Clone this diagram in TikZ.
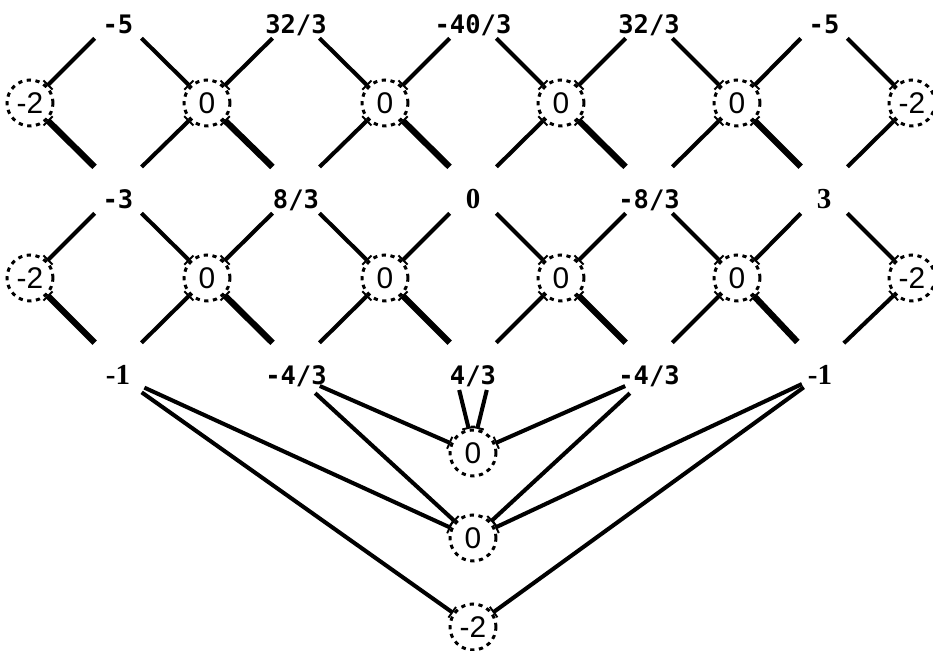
\documentclass[tikz,border=0pt]{standalone}
\usepackage{fontspec}
\usepackage{tikz}
\usetikzlibrary{arrows.meta}
\newfontfamily\latmono{DejaVu Sans Mono}
\newfontfamily\latserif{Liberation Serif}
\newfontfamily\latsans{Liberation Sans}
\tikzset{
  latcirc/.style={circle, draw=black, dash pattern=on 2.4pt off 2.6pt,
    line width=1.7pt, minimum size=9.2mm, inner sep=0pt,
    font=\latsans\fontsize{17}{17}\selectfont},
  latfrac/.style={anchor=north, inner sep=0pt, text height=10.5pt,
    text depth=0pt, font=\latmono\bfseries\fontsize{14.5}{14.5}\selectfont},
  latint/.style={latfrac, font=\latserif\bfseries\fontsize{16.5}{16.5}\selectfont},
  latedge/.style={line width=2.3pt,
    arrows={Bar[width=2.6mm, line width=1.1pt]-}, shorten >=6.6mm},
  latheavy/.style={latedge, line width=3.6pt},
  latfan/.style={line width=2.3pt,
    arrows={-Bar[width=2.6mm, line width=1.1pt]}, shorten <=5.2mm}
}
\begin{document}
\begin{tikzpicture}[x=0.2mm, y=-0.2mm]
  \useasboundingbox (0,0) rectangle (933,651);

  % top row of values
  \node[latfrac] (l11) at (118,15) {-5};
  \node[latfrac] (l12) at (296,15) {32/3};
  \node[latfrac] (l13) at (473,15) {-40/3};
  \node[latfrac] (l14) at (649,15) {32/3};
  \node[latfrac] (l15) at (824,15) {-5};

  \node[latcirc] (c11) at (30,103) {-2};
  \node[latcirc] (c12) at (207,103) {0};
  \node[latcirc] (c13) at (385,103) {0};
  \node[latcirc] (c14) at (561,103) {0};
  \node[latcirc] (c15) at (737,103) {0};
  \node[latcirc] (c16) at (912,103) {-2};

  % middle row of values
  \node[latfrac] (l21) at (118,190) {-3};
  \node[latfrac] (l22) at (296,190) {8/3};
  \node[latint] (l23) at (473,190) {0};
  \node[latfrac] (l24) at (649,190) {-8/3};
  \node[latint] (l25) at (824,190) {3};

  \node[latcirc] (c21) at (30,278) {-2};
  \node[latcirc] (c22) at (207,278) {0};
  \node[latcirc] (c23) at (385,278) {0};
  \node[latcirc] (c24) at (561,278) {0};
  \node[latcirc] (c25) at (737,278) {0};
  \node[latcirc] (c26) at (912,278) {-2};

  % bottom row of values
  \node[latint] (l31) at (118,366) {-1};
  \node[latfrac] (l32) at (296,366) {-4/3};
  \node[latfrac] (l33) at (473,366) {4/3};
  \node[latfrac] (l34) at (649,366) {-4/3};
  \node[latint] (l35) at (820,366) {-1};

  \node[latcirc] (b1) at (473,453) {0};
  \node[latcirc] (b2) at (473,538) {0};
  \node[latcirc] (b3) at (473,627) {-2};

  % first lattice band
  \draw[latedge] (c11) -- (l11.north);
  \draw[latedge] (c12) -- (l11.north);
  \draw[latedge] (c12) -- (l12.north);
  \draw[latedge] (c13) -- (l12.north);
  \draw[latedge] (c13) -- (l13.north);
  \draw[latedge] (c14) -- (l13.north);
  \draw[latedge] (c14) -- (l14.north);
  \draw[latedge] (c15) -- (l14.north);
  \draw[latedge] (c15) -- (l15.north);
  \draw[latedge] (c16) -- (l15.north);

  \draw[latheavy] (c11) -- (l21.north);
  \draw[latedge] (c12) -- (l21.north);
  \draw[latheavy] (c12) -- (l22.north);
  \draw[latedge] (c13) -- (l22.north);
  \draw[latheavy] (c13) -- (l23.north);
  \draw[latedge] (c14) -- (l23.north);
  \draw[latheavy] (c14) -- (l24.north);
  \draw[latedge] (c15) -- (l24.north);
  \draw[latheavy] (c15) -- (l25.north);
  \draw[latedge] (c16) -- (l25.north);

  % second lattice band
  \draw[latedge] (c21) -- (l21.north);
  \draw[latedge] (c22) -- (l21.north);
  \draw[latedge] (c22) -- (l22.north);
  \draw[latedge] (c23) -- (l22.north);
  \draw[latedge] (c23) -- (l23.north);
  \draw[latedge] (c24) -- (l23.north);
  \draw[latedge] (c24) -- (l24.north);
  \draw[latedge] (c25) -- (l24.north);
  \draw[latedge] (c25) -- (l25.north);
  \draw[latedge] (c26) -- (l25.north);

  \draw[latheavy] (c21) -- (l31.north);
  \draw[latedge] (c22) -- (l31.north);
  \draw[latheavy] (c22) -- (l32.north);
  \draw[latedge] (c23) -- (l32.north);
  \draw[latheavy] (c23) -- (l33.north);
  \draw[latedge] (c24) -- (l33.north);
  \draw[latheavy] (c24) -- (l34.north);
  \draw[latedge] (c25) -- (l34.north);
  \draw[latheavy] (c25) -- (l35.north);
  \draw[latedge] (c26) -- (l35.north);

  % fan into the bottom circles
  \draw[latfan, shorten <=5.8mm] (l31.center) -- (b2);
  \draw[latfan, shorten <=5.8mm] (l31.center) -- (b3);
  \draw[latfan] (l32.center) -- (b1);
  \draw[latfan] (l32.center) -- (b2);
  \draw[latfan, shorten <=1mm] ([xshift=-3mm]l33.south) -- (b1.100);
  \draw[latfan, shorten <=1mm] ([xshift=3mm]l33.south) -- (b1.80);
  \draw[latfan] (l34.center) -- (b1);
  \draw[latfan] (l34.center) -- (b2);
  \draw[latfan, shorten <=4mm] (l35.center) -- (b2);
  \draw[latfan, shorten <=4mm] (l35.center) -- (b3);
\end{tikzpicture}
\end{document}
